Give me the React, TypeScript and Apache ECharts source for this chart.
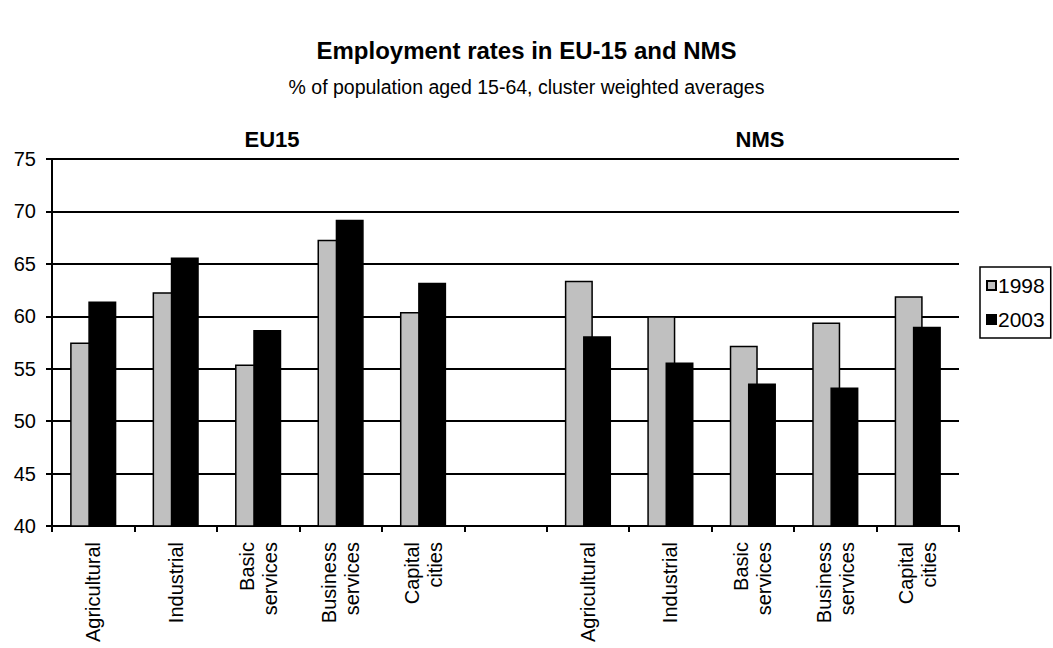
import React, { useEffect, useRef } from "react";
import * as echarts from "echarts";

const categories = [
  "Agricultural",
  "Industrial",
  "Basic\nservices",
  "Business\nservices",
  "Capital\ncities",
  "",
  "Agricultural",
  "Industrial",
  "Basic\nservices",
  "Business\nservices",
  "Capital\ncities",
];
const values1998 = [57.5, 62.3, 55.4, 67.3, 60.4, null, 63.4, 60.0, 57.2, 59.4, 61.9];
const values2003 = [61.4, 65.6, 58.7, 69.2, 63.2, null, 58.1, 55.6, 53.6, 53.2, 59.0];
const seriesNames = ["1998", "2003"];
const yTicks = { min: 40, max: 75, interval: 5 };
const groupLabels = ["EU15", "NMS"];
const titleText = "Employment rates in EU-15 and NMS";
const subtitleText = "% of population aged 15-64, cluster weighted averages";

const FONT = "'Liberation Sans', Arial, sans-serif";

export default function App() {
  const ref = useRef<HTMLDivElement>(null);
  useEffect(() => {
    if (!ref.current) return;
    const chart = echarts.init(ref.current, null, { renderer: "svg" });
    const groupText = (x: number, text: string) => ({
      type: "text",
      x,
      y: 139,
      style: {
        text,
        fontFamily: FONT,
        fontSize: 22,
        fontWeight: "bold",
        fill: "#000",
        align: "center",
        verticalAlign: "middle",
      },
    });
    chart.setOption({
      animation: false,
      backgroundColor: "#ffffff",
      textStyle: { fontFamily: FONT, color: "#000" },
      title: [
        {
          text: titleText,
          left: "center",
          top: 33,
          textStyle: { fontFamily: FONT, fontSize: 24, fontWeight: "bold", color: "#000" },
        },
        {
          text: subtitleText,
          left: "center",
          top: 72,
          textStyle: { fontFamily: FONT, fontSize: 19.5, fontWeight: "normal", color: "#000" },
        },
      ],
      graphic: [groupText(272, groupLabels[0]), groupText(760, groupLabels[1])],
      legend: {
        orient: "vertical",
        left: 980,
        top: 267,
        icon: "rect",
        itemWidth: 9,
        itemHeight: 9,
        itemGap: 13,
        padding: [8, 6, 8, 6],
        borderColor: "#000",
        borderWidth: 1.5,
        textStyle: { fontFamily: FONT, fontSize: 21, color: "#000", padding: [0, 0, 0, -3] },
        data: seriesNames,
      },
      grid: {
        left: 52,
        right: 94,
        top: 159,
        bottom: 122,
        containLabel: false,
        outerBoundsMode: "none",
      },
      xAxis: {
        type: "category",
        data: categories,
        boundaryGap: true,
        axisLine: { show: true, lineStyle: { color: "#000", width: 2 } },
        axisTick: { show: true, interval: 0, length: 6, lineStyle: { color: "#000", width: 2 } },
        axisLabel: {
          interval: 0,
          rotate: 90,
          margin: 16,
          fontFamily: FONT,
          fontSize: 20,
          lineHeight: 23,
          color: "#000",
        },
        splitLine: { show: false },
      },
      yAxis: {
        type: "value",
        min: yTicks.min,
        max: yTicks.max,
        interval: yTicks.interval,
        axisLine: { show: true, lineStyle: { color: "#000", width: 2 } },
        axisTick: { show: true, length: 6, lineStyle: { color: "#000", width: 2 } },
        axisLabel: { fontFamily: FONT, fontSize: 20, color: "#000", margin: 16 },
        splitLine: { show: true, lineStyle: { color: "#000", width: 2 } },
      },
      series: [
        {
          name: seriesNames[0],
          type: "bar",
          data: values1998,
          barGap: "-35%",
          barCategoryGap: "44%",
          itemStyle: { color: "#c0c0c0", borderColor: "#000", borderWidth: 1.5 },
        },
        {
          name: seriesNames[1],
          type: "bar",
          data: values2003,
          barGap: "-35%",
          barCategoryGap: "44%",
          itemStyle: { color: "#000", borderColor: "#000", borderWidth: 1.5 },
        },
      ],
    });
    return () => chart.dispose();
  }, []);
  return (
    <div
      ref={ref}
      style={{ position: "fixed", left: 0, top: 0, width: 1053, height: 648 }}
    />
  );
}
